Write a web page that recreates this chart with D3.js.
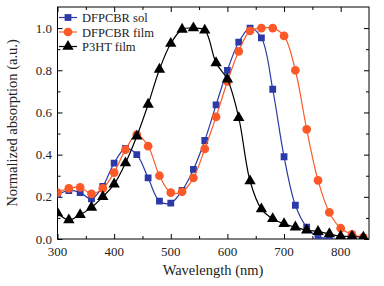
<!DOCTYPE html>
<html>
<head>
<meta charset="utf-8">
<script src="https://cdn.jsdelivr.net/npm/d3@7"></script>
<style>
  body { margin: 0; background: #fff; }
  svg { display: block; }
</style>
</head>
<body>
<svg id="chart" width="384" height="286"></svg>
<script>
// wavelengths (nm)
const waveSol = [300, 320, 340, 360, 380, 400, 420, 440, 460, 480, 500, 520, 540, 560, 580, 600, 620, 640, 660, 680, 700, 720, 740, 760, 780];
const absSol = [0.21, 0.23, 0.22, 0.19, 0.25, 0.36, 0.43, 0.40, 0.29, 0.18, 0.17, 0.23, 0.33, 0.467, 0.636, 0.80, 0.933, 1.0, 0.954, 0.71, 0.39, 0.16, 0.056, 0.01, 0.003];

const waveFilm = [300, 320, 340, 360, 380, 400, 420, 440, 460, 480, 500, 520, 540, 560, 580, 600, 620, 640, 660, 680, 700, 720, 740, 760, 780, 800, 820, 840];
const absFilm = [0.22, 0.24, 0.245, 0.214, 0.24, 0.315, 0.424, 0.495, 0.44, 0.30, 0.22, 0.224, 0.29, 0.427, 0.579, 0.747, 0.89, 0.987, 1.0, 1.0, 0.963, 0.80, 0.52, 0.278, 0.126, 0.051, 0.022, 0.008];

const waveP3ht = [300, 320, 340, 360, 380, 400, 420, 440, 460, 480, 500, 520, 540, 560, 580, 600, 620, 640, 660, 680, 700, 720, 740, 760, 780, 800, 820, 840];
const absP3ht = [0.123, 0.09, 0.115, 0.15, 0.2, 0.26, 0.36, 0.487, 0.638, 0.804, 0.927, 0.994, 1.0, 0.99, 0.835, 0.757, 0.575, 0.275, 0.142, 0.096, 0.072, 0.056, 0.042, 0.035, 0.024, 0.013, 0.013, 0.008];

const seriesNames = ["DFPCBR sol", "DFPCBR film", "P3HT film"];
const seriesColors = ["#2b3aa6", "#fb5a28", "#000000"];

const xTicks = [300, 400, 500, 600, 700, 800];
const yTicks = [0.0, 0.2, 0.4, 0.6, 0.8, 1.0];

const FONT = "Times New Roman, Liberation Serif, serif";

const svg = d3.select("#chart").style("font-family", FONT);
const mLeft = 57.5, mRight = 369, mTop = 7, mBottom = 239;

const x = d3.scaleLinear().domain([300, 850]).range([mLeft, mRight]);
const y = d3.scaleLinear().domain([0, 1.1]).range([mBottom, mTop]);

svg.append("clipPath").attr("id", "clip")
  .append("rect").attr("x", mLeft).attr("y", mTop)
  .attr("width", mRight - mLeft).attr("height", mBottom - mTop);

// axes: major + minor ticks pointing inward on all sides
const xMinor = d3.range(350, 850, 100);
const yMinor = d3.range(0.1, 1.1, 0.2);

function ticks(axis, vals, size) {
  return axis.tickValues(vals).tickSizeInner(size).tickSizeOuter(0).tickFormat("");
}

svg.append("g").attr("transform", `translate(0,${mBottom})`)
  .call(ticks(d3.axisTop(x), xMinor, 3));
svg.append("g").attr("transform", `translate(0,${mBottom})`)
  .call(ticks(d3.axisTop(x), xTicks, 5));
svg.append("g").attr("transform", `translate(0,${mTop})`)
  .call(ticks(d3.axisBottom(x), xMinor, 3));
svg.append("g").attr("transform", `translate(0,${mTop})`)
  .call(ticks(d3.axisBottom(x), xTicks, 5));
svg.append("g").attr("transform", `translate(${mLeft},0)`)
  .call(ticks(d3.axisRight(y), yMinor, 3));
svg.append("g").attr("transform", `translate(${mLeft},0)`)
  .call(ticks(d3.axisRight(y), yTicks, 5));
svg.append("g").attr("transform", `translate(${mRight},0)`)
  .call(ticks(d3.axisLeft(y), yMinor, 3));
svg.append("g").attr("transform", `translate(${mRight},0)`)
  .call(ticks(d3.axisLeft(y), yTicks, 5));

// tick labels
svg.append("g").selectAll("text").data(xTicks).join("text")
  .attr("x", d => x(d)).attr("y", 256)
  .attr("text-anchor", "middle").attr("font-size", 13)
  .attr("fill", "#222")
  .text(d => d);
svg.append("g").selectAll("text").data(yTicks).join("text")
  .attr("x", 52).attr("y", d => y(d) + 4.5)
  .attr("text-anchor", "end").attr("font-size", 13)
  .attr("fill", "#222")
  .text(d => d.toFixed(1));

svg.append("rect").attr("x", mLeft).attr("y", mTop)
  .attr("width", mRight - mLeft).attr("height", mBottom - mTop)
  .attr("fill", "none").attr("stroke", "#000").attr("stroke-width", 1);
svg.selectAll(".domain").remove();
svg.selectAll(".tick line").attr("stroke", "#000");

svg.append("text").attr("x", 213).attr("y", 275)
  .attr("text-anchor", "middle").attr("font-size", 14.5)
  .attr("fill", "#222")
  .text("Wavelength (nm)");
svg.append("text")
  .attr("transform", `translate(17,${(mTop + mBottom) / 2}) rotate(-90)`)
  .attr("text-anchor", "middle").attr("font-size", 14.5)
  .attr("fill", "#222")
  .text("Normalized absorption (a.u.)");

// series
const series = [
  { xs: waveSol, ys: absSol, shape: d3.symbolSquare, size: 46 },
  { xs: waveFilm, ys: absFilm, shape: d3.symbolCircle, size: 60 },
  { xs: waveP3ht, ys: absP3ht, shape: d3.symbolTriangle, size: 56 }
];

const plot = svg.append("g").attr("clip-path", "url(#clip)");
const line = d3.line().x(d => x(d[0])).y(d => y(d[1])).curve(d3.curveCatmullRom.alpha(0.5));

series.forEach((s, i) => {
  const pts = s.xs.map((w, j) => [w, s.ys[j]]);
  plot.append("path").datum(pts)
    .attr("d", line).attr("fill", "none")
    .attr("stroke", seriesColors[i]).attr("stroke-width", 1.2);
  plot.append("g").selectAll("path").data(pts).join("path")
    .attr("transform", d => `translate(${x(d[0])},${y(d[1])})`)
    .attr("d", d3.symbol().type(s.shape).size(s.size))
    .attr("fill", seriesColors[i]);
});

// legend
const legend = svg.append("g");
seriesNames.forEach((name, i) => {
  const ly = 17.5 + i * 14.5;
  legend.append("line").attr("x1", 59).attr("x2", 77).attr("y1", ly).attr("y2", ly)
    .attr("stroke", seriesColors[i]).attr("stroke-width", 1.2);
  legend.append("path").attr("transform", `translate(68,${ly})`)
    .attr("d", d3.symbol().type(series[i].shape).size(series[i].size))
    .attr("fill", seriesColors[i]);
  legend.append("text").attr("x", 82).attr("y", ly + 4.5)
    .attr("font-size", 12.5).attr("fill", "#222")
    .text(name);
});
</script>
</body>
</html>
